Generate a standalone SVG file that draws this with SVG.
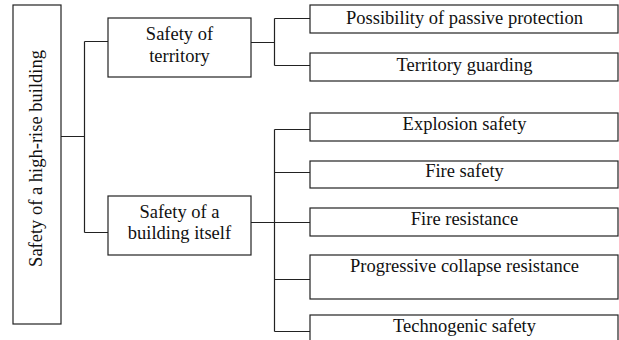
<svg xmlns="http://www.w3.org/2000/svg" width="619" height="340" viewBox="0 0 619 340">
<style>
.box{fill:#fff;stroke:#222;stroke-width:1.2}
.ln{fill:none;stroke:#222;stroke-width:1.2}
.t{font-family:'Liberation Serif','Times New Roman',Times,'DejaVu Serif',serif;font-size:18.5px;fill:#111;text-anchor:middle}
</style>
<rect width="619" height="340" fill="#fff"/>
<g id="connectors">
<path class="ln" d="M61 136.5H84.5M84.5 41.5V232.5M84.5 41.5H108M84.5 232.5H108"/>
<path class="ln" d="M251 42.5H274.5M274.5 18.5V65.5M274.5 18.5H310M274.5 65.5H310"/>
<path class="ln" d="M251 222.5H310M274.5 129.5V331.5M274.5 129.5H310M274.5 172.5H310M274.5 279.5H310M274.5 331.5H310"/>
</g>
<g id="root">
<rect class="box" x="13" y="5" width="48" height="319"/>
<text class="t" transform="translate(41.5 158.5) rotate(-90)" font-size="18">Safety of a high-rise building</text>
</g>
<g id="territory">
<rect class="box" x="108" y="18" width="143" height="59"/>
<text class="t" x="179.5" y="40">Safety of</text>
<text class="t" x="179.5" y="62">territory</text>
</g>
<g id="building">
<rect class="box" x="108" y="196" width="143" height="59"/>
<text class="t" x="179.5" y="217.5">Safety of a</text>
<text class="t" x="179.5" y="239">building itself</text>
</g>
<g id="passive">
<rect class="box" x="310" y="5" width="308" height="28"/>
<text class="t" x="464.5" y="23.5">Possibility of passive protection</text>
</g>
<g id="guarding">
<rect class="box" x="310" y="53" width="308" height="28"/>
<text class="t" x="464.5" y="70.5">Territory guarding</text>
</g>
<g id="explosion">
<rect class="box" x="310" y="113" width="308" height="28"/>
<text class="t" x="464.5" y="130">Explosion safety</text>
</g>
<g id="fire-safety">
<rect class="box" x="310" y="161" width="308" height="27"/>
<text class="t" x="464.5" y="177">Fire safety</text>
</g>
<g id="fire-resistance">
<rect class="box" x="310" y="208" width="308" height="28"/>
<text class="t" x="464.5" y="225">Fire resistance</text>
</g>
<g id="collapse">
<rect class="box" x="310" y="255" width="308" height="44"/>
<text class="t" x="464.5" y="271.5">Progressive collapse resistance</text>
</g>
<g id="technogenic">
<rect class="box" x="310" y="315" width="308" height="40"/>
<text class="t" x="464.5" y="332">Technogenic safety</text>
</g>
</svg>
